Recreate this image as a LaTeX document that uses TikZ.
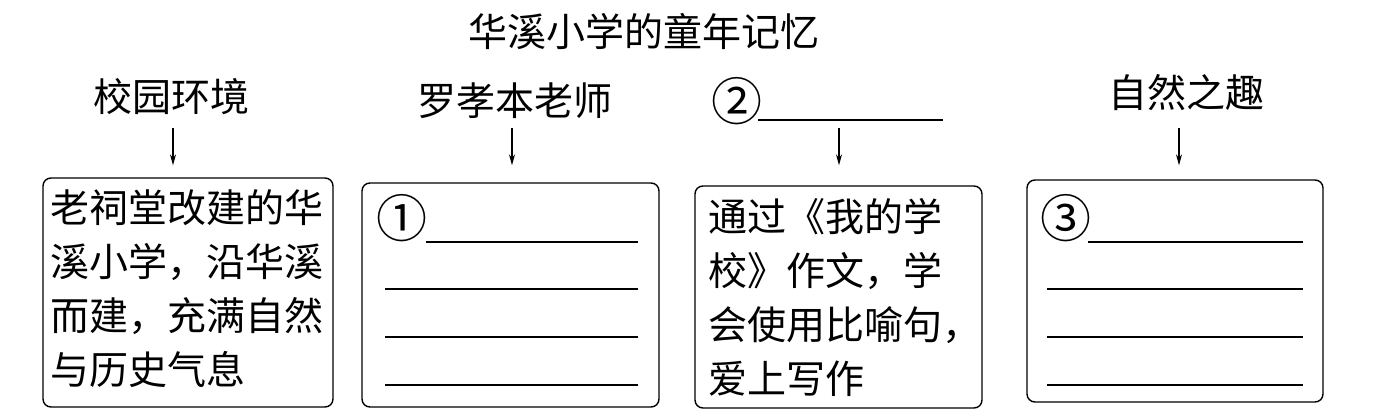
\documentclass[tikz,border=0pt]{standalone}
\usepackage{fontspec}
\setmainfont{Noto Sans CJK SC}
\usetikzlibrary{arrows.meta}
\begin{document}
\begin{tikzpicture}[x=1pt,y=-1pt,
  box/.style={draw, line width=1.4pt, rounded corners=8pt, inner sep=0pt},
  lab/.style={font=\fontsize{39}{46}\selectfont, inner sep=0pt},
  num/.style={font=\fontsize{51}{56}\selectfont, inner sep=0pt},
  body/.style={font=\fontsize{39}{54}\selectfont, inner sep=0pt, align=left, anchor=north west},
  arr/.style={line width=1.1pt, -{Stealth[length=11pt,width=6pt]}},
  blank/.style={line width=1.3pt}]
\useasboundingbox (0,0) rectangle (1382,419);
% title
\node[lab] (title) at (644,32) {华溪小学的童年记忆};
% labels
\node[lab] (lab1) at (171,97) {校园环境};
\node[lab] (lab2) at (515,101) {罗孝本老师};
\node[num] (lab3) at (737,101) {②};
\coordinate (u3a) at (758,120);
\coordinate (u3b) at (943,120);
\draw[blank] (u3a) -- (u3b);
\node[lab] (lab4) at (1186,93) {自然之趣};
% boxes
\node[box, minimum width=290pt, minimum height=229pt] (box1) at (188,292.5) {};
\node[box, minimum width=297pt, minimum height=224pt] (box2) at (510.5,295) {};
\node[box, minimum width=287pt, minimum height=222pt] (box3) at (838.5,297) {};
\node[box, minimum width=296pt, minimum height=222pt] (box4) at (1175,291) {};
% arrows
\coordinate (a1) at (173,128);
\coordinate (a2) at (512,128);
\coordinate (a3) at (839,128);
\coordinate (a4) at (1179,128);
\draw[arr, shorten >=12pt] (a1) -- (box1.north -| a1);
\draw[arr, shorten >=17pt] (a2) -- (box2.north -| a2);
\draw[arr, shorten >=20pt] (a3) -- (box3.north -| a3);
\draw[arr, shorten >=14pt] (a4) -- (box4.north -| a4);
% box 1 text
\node[body] (t1) at (50,189) {老祠堂改建的华\\溪小学，沿华溪\\而建，充满自然\\与历史气息};
% box 3 text
\node[body] (t3) at (708,198) {通过《我的学\\校》作文，学\\会使用比喻句，\\爱上写作};
% box 2 blanks
\node[num] (n1) at (402,218) {①};
\draw[blank] (426,242) -- (638,242);
\draw[blank] (385,289) -- (638,289);
\draw[blank] (385,337) -- (638,337);
\draw[blank] (385,385) -- (638,385);
% box 4 blanks
\node[num] (n3) at (1066,218) {③};
\draw[blank] (1088,242) -- (1303,242);
\draw[blank] (1047,289) -- (1303,289);
\draw[blank] (1047,337) -- (1303,337);
\draw[blank] (1047,385) -- (1303,385);
\end{tikzpicture}
\end{document}
